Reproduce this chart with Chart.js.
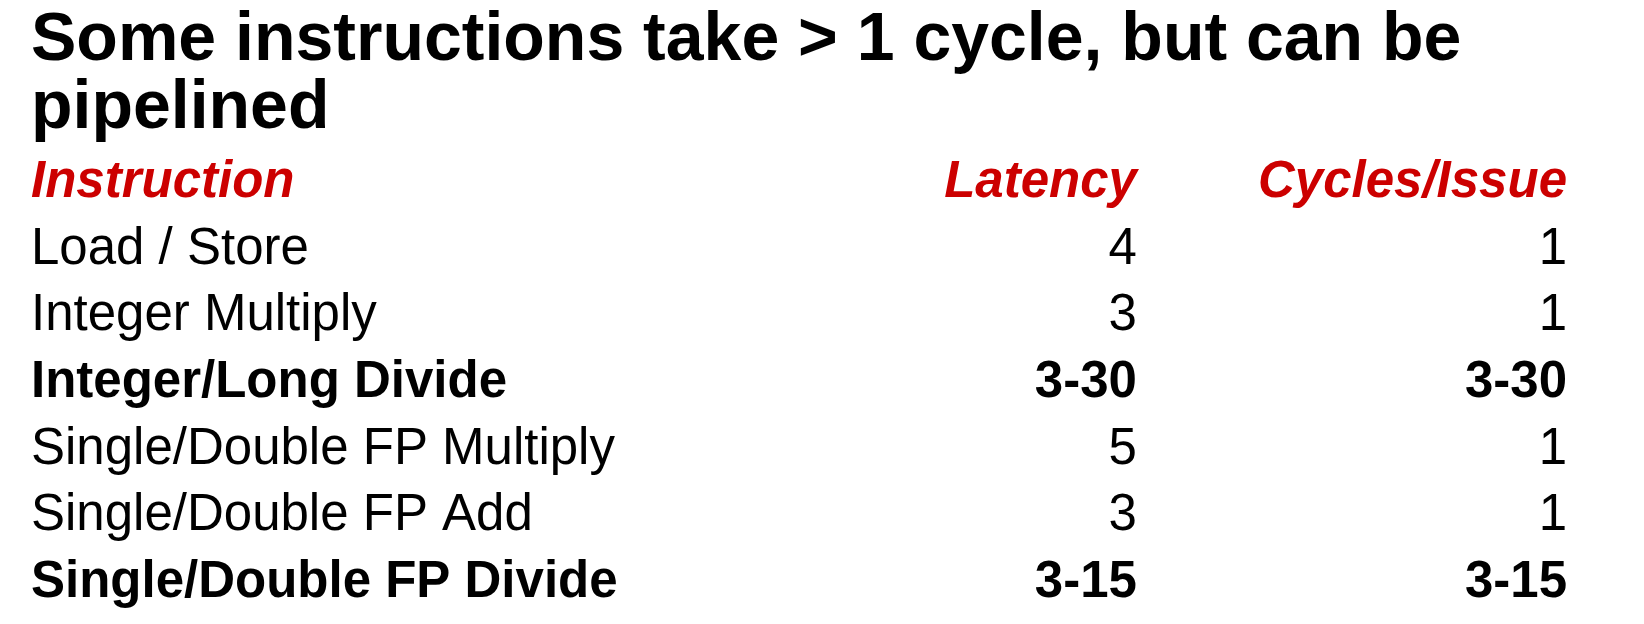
<!DOCTYPE html>
<html>
<head>
<meta charset="utf-8">
<script src="https://cdn.jsdelivr.net/npm/chart.js@4.4.1/dist/chart.umd.min.js"></script>
<style>
  html, body { margin: 0; padding: 0; background: #fff; }
  #wrap { width: 1644px; height: 624px; }
</style>
</head>
<body>
<div id="wrap"><canvas id="latencyTable"></canvas></div>
<script>
// ── Table data ──
const titleLines = ['Some instructions take > 1 cycle, but can be', 'pipelined'];
const columns = ['Instruction', 'Latency', 'Cycles/Issue'];
const instructions = [
  'Load / Store',
  'Integer Multiply',
  'Integer/Long Divide',
  'Single/Double FP Multiply',
  'Single/Double FP Add',
  'Single/Double FP Divide',
];
const latency = ['4', '3', '3-30', '5', '3', '3-15'];
const cyclesPerIssue = ['1', '1', '3-30', '1', '1', '3-15'];
// rows that are set in bold (not pipelined)
const emphasized = ['Integer/Long Divide', 'Single/Double FP Divide'];

// ── Layout / style ──
const FONT = "'Liberation Sans', Arial, Helvetica, sans-serif";
const RED = '#cc0000';
const CELL_SIZE = 51;
const COL_X = [0, 72, 100];          // column anchors on the x scale
const COL_ALIGN = ['left', 'right', 'right'];

const rowKeys = ['header', ...instructions];

// Plugin: draws each cell at (x scale column, y scale row)
const tableCellsPlugin = {
  id: 'tableCells',
  afterDraw(chart) {
    const { ctx } = chart;
    const xs = chart.scales.x, ys = chart.scales.y;
    const rows = [columns, ...instructions.map((name, i) => [name, latency[i], cyclesPerIssue[i]])];

    rows.forEach((row, ri) => {
      const py = ys.getPixelForValue(ri);
      const isHeader = ri === 0;
      const isBold = !isHeader && emphasized.includes(row[0]);
      ctx.save();
      ctx.textBaseline = 'alphabetic';
      if (isHeader) {
        ctx.font = `italic bold ${CELL_SIZE}px ${FONT}`;
        ctx.fillStyle = RED;
      } else {
        ctx.font = `${isBold ? 'bold ' : ''}${CELL_SIZE}px ${FONT}`;
        ctx.fillStyle = '#000';
      }
      row.forEach((text, ci) => {
        ctx.textAlign = COL_ALIGN[ci];
        ctx.fillText(text, xs.getPixelForValue(COL_X[ci]), py);
      });
      ctx.restore();
    });
  },
};

new Chart(document.getElementById('latencyTable').getContext('2d'), {
  type: 'scatter',
  data: { datasets: [] },
  plugins: [tableCellsPlugin],
  options: {
    responsive: true,
    maintainAspectRatio: false,
    animation: false,
    layout: { padding: { left: 31, right: 77, top: 0, bottom: 27 } },
    plugins: {
      legend: { display: false },
      tooltip: { enabled: false },
      title: {
        display: true,
        text: titleLines,
        align: 'start',
        color: '#000',
        font: { family: FONT, size: 68, weight: 'bold', lineHeight: 1.0 },
        padding: { top: 7, bottom: 54 },
      },
    },
    scales: {
      x: { type: 'linear', min: 0, max: 100, display: false },
      y: { type: 'category', labels: rowKeys, offset: false, display: false },
    },
  },
});
</script>
</body>
</html>
